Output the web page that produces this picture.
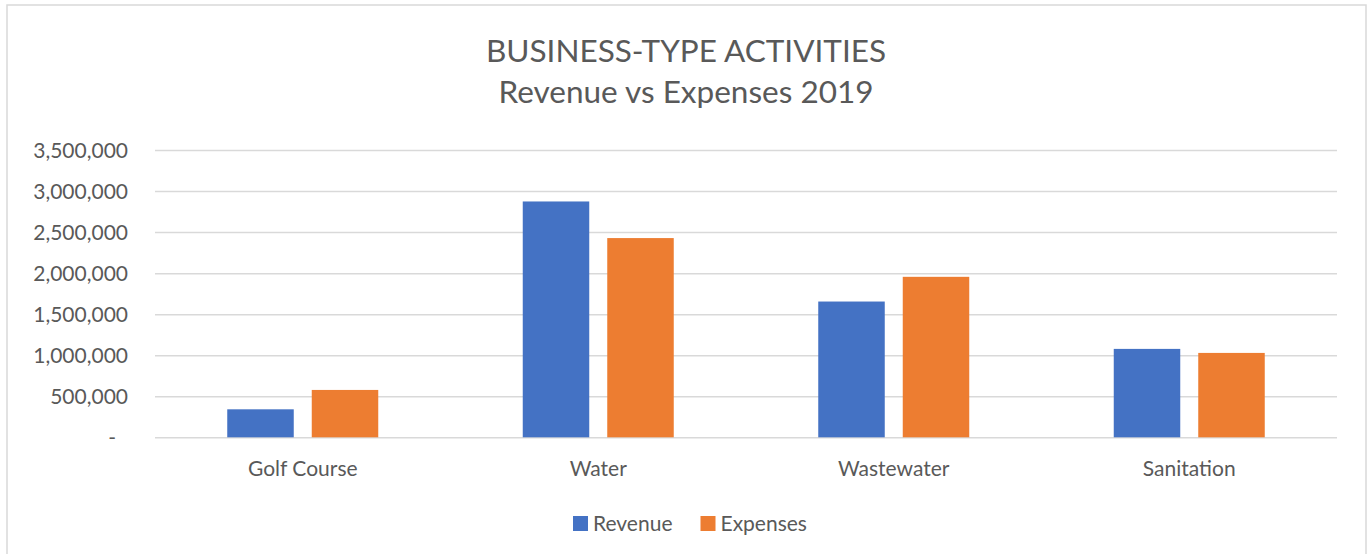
<!DOCTYPE html>
<html>
<head>
<meta charset="utf-8">
<script src="https://cdn.jsdelivr.net/npm/d3@7"></script>
<style>
  body { margin: 0; background: #fff; }
  text { font-family: Lato, 'Open Sans', sans-serif; fill: #595959; }
</style>
</head>
<body>
<div id="chart"></div>
<script>
const categories = ['Golf Course', 'Water', 'Wastewater', 'Sanitation']
const seriesNames = ['Revenue', 'Expenses']
const revenue = [341000, 2873000, 1654000, 1077000]
const expenses = [577000, 2427000, 1955000, 1028000]
const tickValues = [0, 500000, 1000000, 1500000, 2000000, 2500000, 3000000, 3500000]
const titleLines = ['BUSINESS-TYPE ACTIVITIES', 'Revenue vs Expenses 2019']

const width = 1372
const height = 554
const colors = { Revenue: '#4472C4', Expenses: '#ED7D31' }

// plot area
const margin = { top: 150, right: 35, bottom: 117, left: 155 }

const svg = d3
  .select('#chart')
  .append('svg')
  .attr('width', width)
  .attr('height', height)

// chart frame
svg
  .append('rect')
  .attr('x', 7)
  .attr('y', 5)
  .attr('width', 1359)
  .attr('height', 560)
  .attr('fill', 'none')
  .attr('stroke', '#d9d9d9')
  .attr('stroke-width', 1.5)

// title
svg
  .selectAll('.title')
  .data(titleLines)
  .join('text')
  .attr('class', 'title')
  .attr('x', 686)
  .attr('y', (d, i) => 62 + i * 41)
  .attr('text-anchor', 'middle')
  .style('font-size', '31.5px')
  .text((d) => d)

const y = d3
  .scaleLinear()
  .domain([0, 3500000])
  .range([437.3, margin.top])

const x0 = d3
  .scaleBand()
  .domain(categories)
  .range([margin.left, width - margin.right])
  .padding(0)

const groupWidth = 151
const x1 = d3
  .scaleBand()
  .domain(seriesNames)
  .range([0, groupWidth])
  .paddingInner(0.213)
  .paddingOuter(0)

// gridlines
const yAxis = svg
  .append('g')
  .attr('transform', `translate(${margin.left},0)`)
  .call(
    d3
      .axisLeft(y)
      .tickValues(tickValues)
      .tickSize(-(width - margin.right - margin.left))
      .tickPadding(27)
      .tickFormat((d) => (d === 0 ? '-' : d3.format(',')(d)))
  )
yAxis.select('.domain').remove()
yAxis.selectAll('line').attr('stroke', '#d9d9d9').attr('stroke-width', 1.5)
yAxis
  .selectAll('text')
  .style('font-size', '21px')
  .attr('fill', '#595959')
  .attr('dy', '0.35em')
  .attr('dx', (d) => (d === 0 ? -12 : 0))

// bars
const rows = categories.map((c, i) => ({ category: c, Revenue: revenue[i], Expenses: expenses[i] }))
const groups = svg
  .append('g')
  .selectAll('g')
  .data(rows)
  .join('g')
  .attr('transform', (d) => `translate(${x0(d.category) + (x0.bandwidth() - groupWidth) / 2},0)`)

groups
  .selectAll('rect')
  .data((d) => seriesNames.map((s) => ({ key: s, value: d[s] })))
  .join('rect')
  .attr('x', (d) => x1(d.key))
  .attr('y', (d) => y(d.value))
  .attr('width', x1.bandwidth())
  .attr('height', (d) => y(0) - y(d.value))
  .attr('fill', (d) => colors[d.key])

// category labels
svg
  .append('g')
  .selectAll('text')
  .data(categories)
  .join('text')
  .attr('x', (d) => x0(d) + x0.bandwidth() / 2)
  .attr('y', 476)
  .attr('text-anchor', 'middle')
  .style('font-size', '21px')
  .text((d) => d)

// legend
const legend = svg.append('g').attr('transform', 'translate(573,516)')
const legendItems = legend
  .selectAll('g')
  .data(seriesNames)
  .join('g')
  .attr('transform', (d, i) => `translate(${i * 127.5},0)`)
legendItems
  .append('rect')
  .attr('width', 15)
  .attr('height', 15)
  .attr('fill', (d) => colors[d])
legendItems
  .append('text')
  .attr('x', 20)
  .attr('y', 15)
  .style('font-size', '21px')
  .text((d) => d)
</script>
</body>
</html>
